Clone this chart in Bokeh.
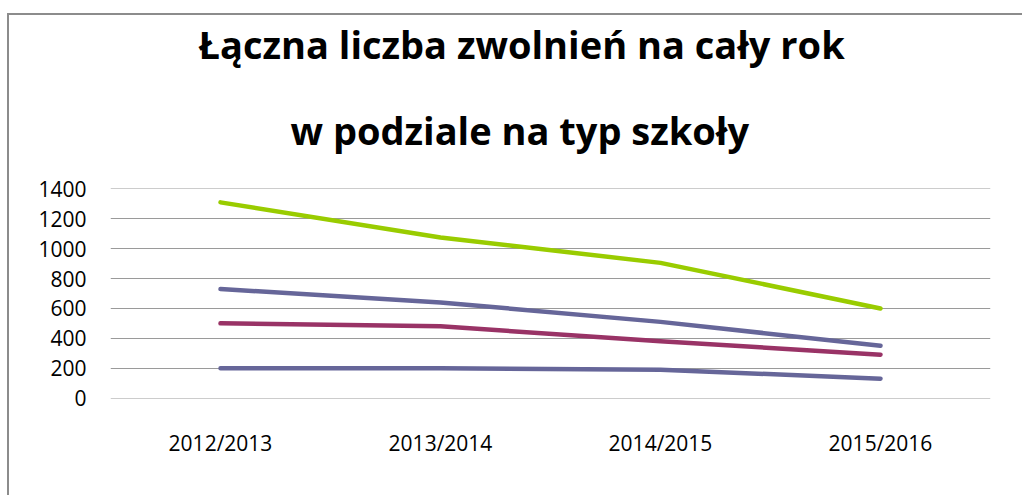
from bokeh.plotting import figure
from bokeh.models import FixedTicker, Title
from bokeh.embed import file_html
from bokeh.resources import INLINE

years = ["2012/2013", "2013/2014", "2014/2015", "2015/2016"]
series_a = [1310, 1075, 905, 600]
series_b = [730, 640, 510, 350]
series_c = [500, 480, 380, 290]
series_d = [200, 200, 190, 130]
y_ticks = [0, 200, 400, 600, 800, 1000, 1200, 1400]
title_lines = ["Łączna liczba zwolnień na cały rok", "w podziale na typ szkoły"]

colors = ["#99cc00", "#666699", "#993366", "#666699"]

p = figure(width=1015, height=482, x_range=years, y_range=(-3, 1403),
           output_backend="svg", toolbar_location=None,
           min_border_left=101, min_border_right=34,
           min_border_top=173, min_border_bottom=99,
           margin=(13, 0, 0, 7),
           styles={"border-top": "2px solid #8c8c8c", "border-left": "2px solid #8c8c8c"})
p.x_range.range_padding = 0

t2 = Title(text=title_lines[1], align="left", offset=180, standoff=65,
           text_font="Open Sans", text_font_size="38px",
           text_font_style="bold", text_color="#000000")
t1 = Title(text=title_lines[0], align="left", offset=88, standoff=0,
           text_font="Open Sans", text_font_size="38px",
           text_font_style="bold", text_color="#000000")
p.add_layout(t2, "above")
p.add_layout(t1, "above")

for vals, c in zip([series_a, series_b, series_c, series_d], colors):
    p.line(years, vals, line_color=c, line_width=4.5, line_join="round", line_cap="round")

p.yaxis.ticker = FixedTicker(ticks=y_ticks)
p.outline_line_color = None
p.xgrid.grid_line_color = None
p.ygrid.grid_line_color = "#9a9a9a"
p.ygrid.grid_line_width = 1
for ax in (p.xaxis, p.yaxis):
    ax.axis_line_color = None
    ax.major_tick_line_color = None
    ax.minor_tick_line_color = None
    ax.major_label_text_font = "Open Sans"
    ax.major_label_text_font_size = "21px"
    ax.major_label_text_color = "#000000"
p.yaxis.major_label_standoff = 18
p.xaxis.major_label_standoff = 24

open("out.html", "w").write(file_html(p, INLINE))
